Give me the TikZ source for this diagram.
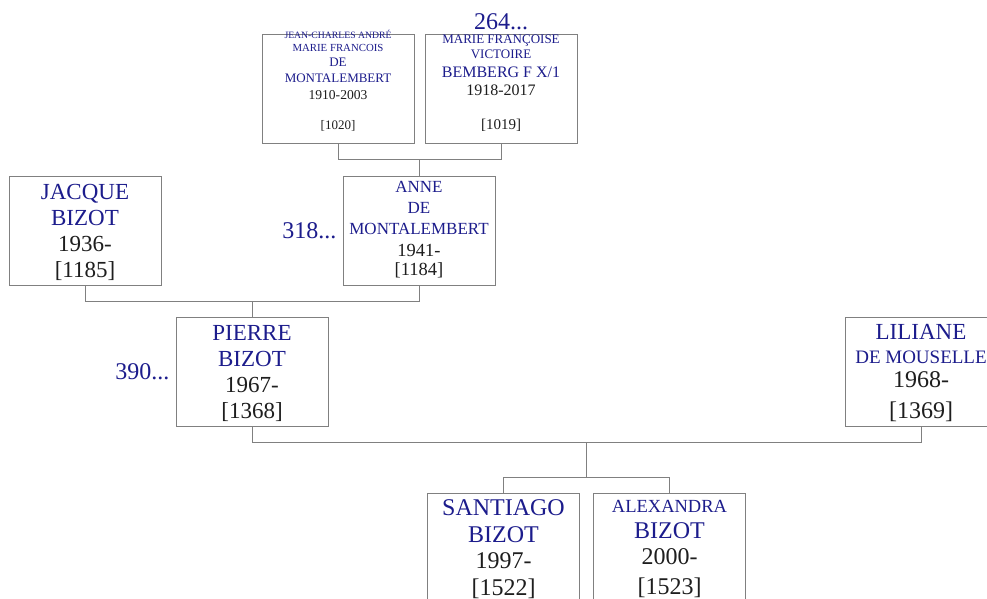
\documentclass[tikz,border=0pt]{standalone}
\usepackage{fontspec}
\setmainfont{Liberation Serif}
\usetikzlibrary{positioning, calc}
\definecolor{nameblue}{RGB}{28,28,140}
\definecolor{boxgray}{RGB}{128,128,128}
\definecolor{yeargray}{RGB}{30,30,30}

\begin{document}
\begin{tikzpicture}[x=1pt, y=-1pt,
		person/.style={draw=boxgray, line width=1pt, rectangle, fill=white, minimum width=152pt, minimum height=109pt, inner sep=0pt, align=center, text=yeargray, text depth=0pt},
		link/.style={draw=boxgray, line width=1pt},
		more/.style={text=nameblue, inner sep=0pt, font=\fontsize{24}{28}\selectfont}]
				\useasboundingbox (0,0) rectangle (987,598);
				\clip (0,0) rectangle (987,598);
				
				% grandparents
				\node[person, text height=85pt, text depth=5pt, font=\fontsize{13}{15}\selectfont] (jc) at (338, 89) {{\fontsize{9.7}{11}\selectfont\color{nameblue}JEAN-CHARLES ANDRÉ}\\[-2pt] {\fontsize{10.8}{12}\selectfont\color{nameblue}MARIE FRANCOIS}\\ {\color{nameblue}DE}\\[1pt] {\color{nameblue}MONTALEMBERT}\\[2pt] {\fontsize{13.6}{15}\selectfont 1910-2003}\\[15pt] {[1020]}};
				\node[person, text height=85pt, text depth=5pt, font=\fontsize{13}{17}\selectfont] (mf) at (501, 89) {{\color{nameblue}MARIE FRANÇOISE}\\[-2pt] {\color{nameblue}VICTOIRE}\\[2pt] {\fontsize{16}{18}\selectfont\color{nameblue}BEMBERG F X/1}\\[1pt] {\fontsize{16}{18}\selectfont 1918-2017}\\[17pt] {\fontsize{15}{17}\selectfont [1019]}};
				\node[more, above=4pt of mf] (mfmore) {264...};
				
				% parents
				\node[person, font=\fontsize{23}{26}\selectfont] (jacque) at (85, 230.5) {\textcolor{nameblue}{JACQUE}\\ \textcolor{nameblue}{BIZOT}\\ 1936-\\ {[1185]}};
				\node[person, text depth=5pt, font=\fontsize{17}{21}\selectfont] (anne) at (419, 230.5) {\textcolor{nameblue}{ANNE}\\ \textcolor{nameblue}{DE}\\ \textcolor{nameblue}{MONTALEMBERT}\\[1pt] {\fontsize{18.5}{21}\selectfont 1941-}\\[-2pt] {\fontsize{18.5}{21}\selectfont [1184]}};
				\node[more, left=6pt of anne] (annemore) {318...};
				
				% couple
				\node[person, font=\fontsize{23}{26}\selectfont] (pierre) at (252, 371.5) {\textcolor{nameblue}{PIERRE}\\ \textcolor{nameblue}{BIZOT}\\ 1967-\\ {[1368]}};
				\node[more, left=6pt of pierre] (pierremore) {390...};
				\node[person, font=\fontsize{24}{24}\selectfont] (liliane) at (921, 371.5) {{\fontsize{23}{24}\selectfont\color{nameblue}LILIANE}\\ {\fontsize{19}{24}\selectfont\color{nameblue}DE MOUSELLE}\\ 1968-\\[7pt] {[1369]}};
				
				% children
				\node[person, font=\fontsize{24}{26.5}\selectfont] (santiago) at (503.5, 547.5) {\textcolor{nameblue}{SANTIAGO}\\ \textcolor{nameblue}{BIZOT}\\ 1997-\\ {[1522]}};
				\node[person, font=\fontsize{24}{25}\selectfont] (alexandra) at (669.5, 547.5) {{\fontsize{18.5}{25}\selectfont\color{nameblue}ALEXANDRA}\\[1pt] \textcolor{nameblue}{BIZOT}\\[1pt] 2000-\\[5pt] {[1523]}};
				
				% links
				\draw[link] (jc.south) -- ++(0,15) -| (mf.south);
				\coordinate (p1) at ($(jc.south)!0.5!(mf.south)+(0,15)$);
				\draw[link] (anne.north) -- (anne.north |- p1);
				
				\draw[link] (jacque.south) -- ++(0,16) -| (anne.south);
				\coordinate (p2) at ($(jacque.south)!0.5!(anne.south)+(0,16)$);
				\draw[link] (pierre.north) -- (pierre.north |- p2);
				
				\draw[link] (pierre.south) -- ++(0,16) -| (liliane.south);
				\coordinate (p3) at ($(pierre.south)!0.5!(liliane.south)+(0,16)$);
				\coordinate (p4) at ($(p3)+(0,35)$);
				\draw[link] (p3) -- (p4);
				\draw[link] (santiago.north) |- (p4) -| (alexandra.north);
			\end{tikzpicture}
\end{document}
